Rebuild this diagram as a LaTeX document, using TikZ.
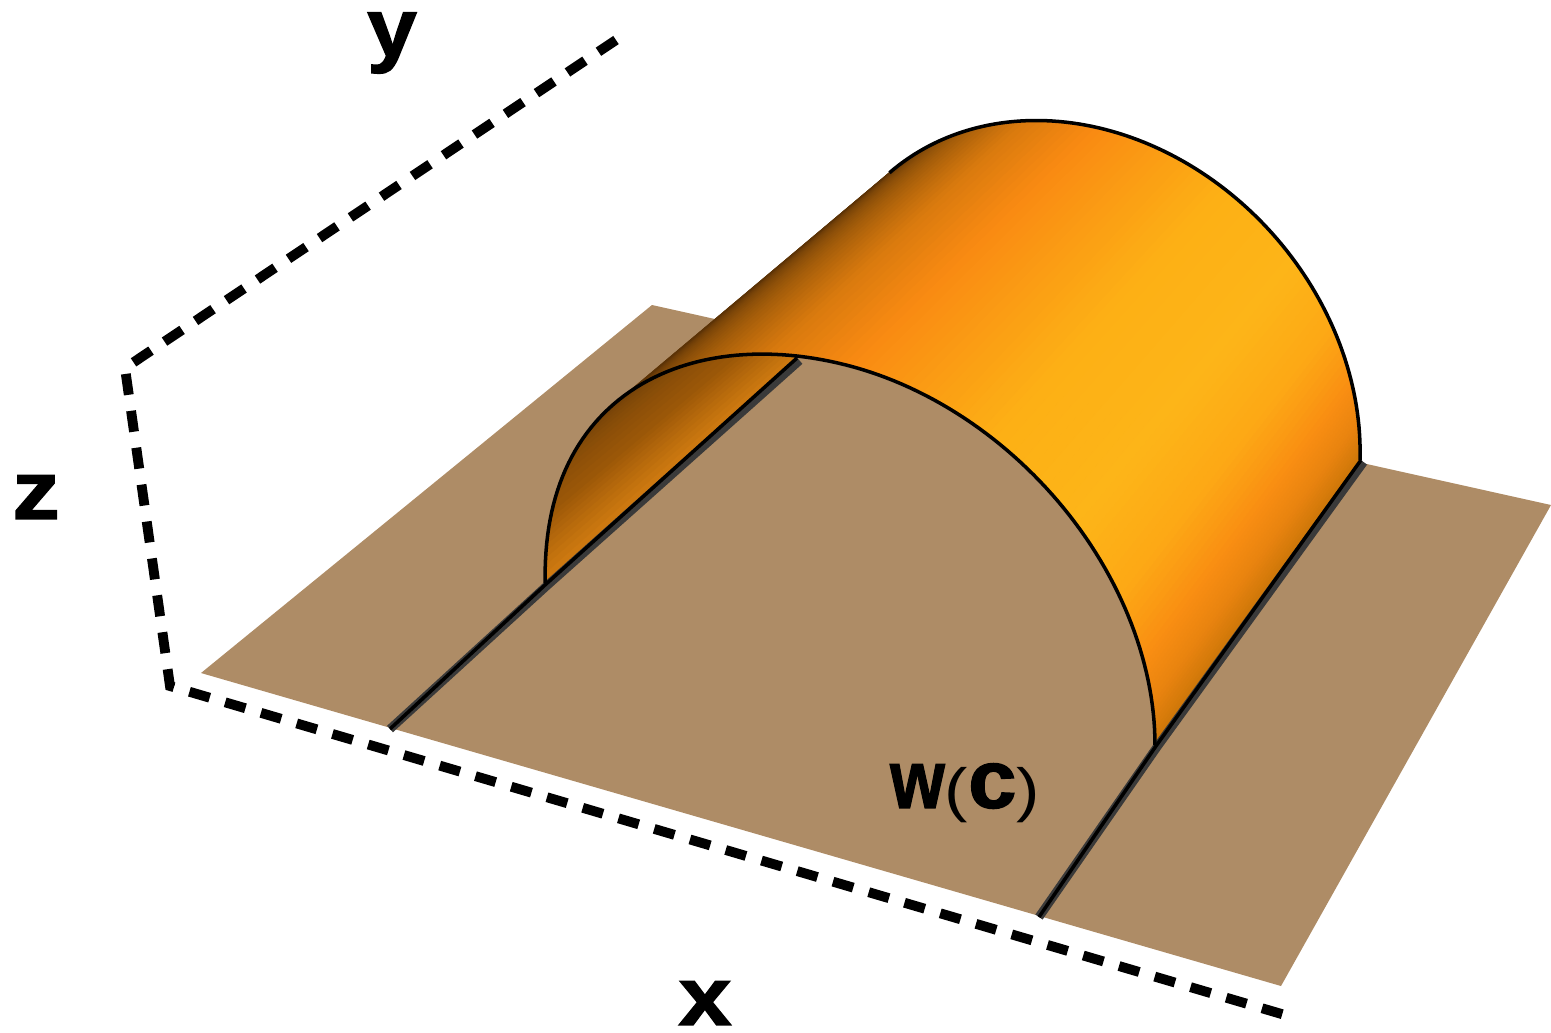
\documentclass[tikz,border=0pt]{standalone}
\usepackage{fontspec}
\setmainfont{Liberation Sans}
\newfontfamily\heavyfont[UprightFont=* Bold,FakeBold=1.6]{Liberation Sans}
\definecolor{ground}{HTML}{AE8C66}
\definecolor{edgegray}{HTML}{3A3A3A}
\definecolor{oa}{HTML}{CC7608}
\definecolor{ob}{HTML}{E8830F}
\definecolor{oc}{HTML}{F98E12}
\definecolor{oc2}{HTML}{FDA815}
\definecolor{od}{HTML}{FDB518}
\definecolor{oe}{HTML}{FDB015}
\definecolor{of}{HTML}{FB9E14}
\definecolor{og}{HTML}{F98A12}
\definecolor{oh}{HTML}{D97A0E}
\definecolor{oi}{HTML}{A85F0A}
\definecolor{oj}{HTML}{7A4508}
\definecolor{ok}{HTML}{5A3206}
\definecolor{ia}{HTML}{CF7A10}
\definecolor{ib}{HTML}{9C5808}
\definecolor{ic}{HTML}{7A4508}
\definecolor{id}{HTML}{5A3206}
% front and back rim of the half cylinder (pixel coordinates)
\newcommand{\frx}[1]{850+305*cos(#1)}
\newcommand{\fry}[1]{664+81*cos(#1)-298*sin(#1)-(#1>90)*30*sqrt(abs(sin(#1)))*(1-abs(sin(#1)))}
\newcommand{\bax}[1]{1087+273*cos(#1)+8*sin(#1)}
\newcommand{\bay}[1]{400+60*cos(#1)-273*sin(#1)}
\newcommand{\bandstrips}[4]{%
  \foreach \k in {0,...,9}{%
    \pgfmathsetmacro{\ta}{#1+(#2-#1)*\k/10}%
    \pgfmathsetmacro{\tb}{#1+(#2-#1)*(\k+1)/10}%
    \pgfmathtruncatemacro{\mx}{10*\k+5}%
    \fill[fill={#4!\mx!#3},draw={#4!\mx!#3},line width=.3pt]
      ({\frx{\ta}},{\fry{\ta}}) -- ({\bax{\ta}},{\bay{\ta}}) --
      ({\bax{\tb}},{\bay{\tb}}) -- ({\frx{\tb}},{\fry{\tb}}) -- cycle;
  }%
}
\tikzset{
  axisline/.style={draw=black,line width=2.8pt,dash pattern=on 6pt off 4.6pt},
  baseline/.style={draw=edgegray,line width=2.5pt},
  rim/.style={draw=black,line width=1pt,line join=round},
  label/.style={inner sep=0pt,font=\fontsize{23.5}{24}\heavyfont}
}
\newcommand{\thinparen}[1]{\raisebox{-.03em}{\scalebox{.85}[.72]{\fontsize{23.5}{24}\setmainfont{Liberation Sans}\normalfont #1}}}
\begin{document}
\begin{tikzpicture}[x=0.01cm,y=-0.01cm]
\useasboundingbox (0,0) rectangle (1551,1032);
% ground
\coordinate (g1) at (201,673);
\coordinate (g2) at (1281,986);
\coordinate (g3) at (1551,505);
\coordinate (g4) at (652,305);
\fill[ground] (g1) -- (g2) -- (g3) -- (g4) -- cycle;
% outer surface
\bandstrips{0}{8}{oa}{ob}
\bandstrips{8}{16}{ob}{oc}
\bandstrips{16}{28}{oc}{oc2}
\bandstrips{28}{42}{oc2}{od}
\bandstrips{42}{62}{od}{oe}
\bandstrips{62}{75}{oe}{of}
\bandstrips{75}{90}{of}{og}
\bandstrips{90}{105}{og}{oh}
\bandstrips{105}{118}{oh}{oi}
\bandstrips{118}{130}{oi}{oj}
\bandstrips{130}{138}{oj}{ok}
% inner surface seen through the opening
\begin{scope}
\clip plot[domain=100:180,samples=60] ({\frx{\x}},{\fry{\x}}) -- cycle;
\bandstrips{180}{168}{ia}{ib}
\bandstrips{168}{148}{ib}{ic}
\bandstrips{148}{128}{ic}{id}
\bandstrips{128}{100}{id}{id}
\end{scope}
% contact lines
\coordinate (la) at (390,729);
\coordinate (lb) at (545,585);
\coordinate (lc) at (797,358);
\coordinate (ra) at (1039,917);
\coordinate (rb) at (1156,746);
\coordinate (rc) at (1361,460);
\draw[baseline] (la) -- ([shift={(1,1.5)}]lb) -- ([shift={(2.5,2.5)}]lc);
\draw[baseline] (ra) -- ([shift={(1,1)}]rb) -- ([shift={(2.5,2)}]rc);
\draw[rim] (la) -- (lb) -- (lc);
\draw[rim] (ra) -- (rb) -- (rc);
% rims
\draw[rim] plot[domain=0:180,samples=120] ({\frx{\x}},{\fry{\x}});
\draw[rim] plot[domain=0:138,samples=100] ({\bax{\x}},{\bay{\x}});
% axes
\coordinate (ay) at (616,40);
\coordinate (ao) at (125,368);
\coordinate (az) at (170,686);
\coordinate (ax) at (1285,1015);
\draw[axisline] (ay) -- (ao) -- (az) -- (ax);
% labels
\node[label] (ylab) at (392,43) {\scalebox{1.08}[1]{y}};
\node[label] (zlab) at (36,497) {\scalebox{1.15}[1]{z}};
\node[label] (xlab) at (705,1003) {\scalebox{1.15}[1]{x}};
\node[label] (wlab) at (965,793) {\scalebox{.85}[1]{w}\thinparen{(}\scalebox{1.05}[1]{c}\thinparen{)}};
\end{tikzpicture}
\end{document}
